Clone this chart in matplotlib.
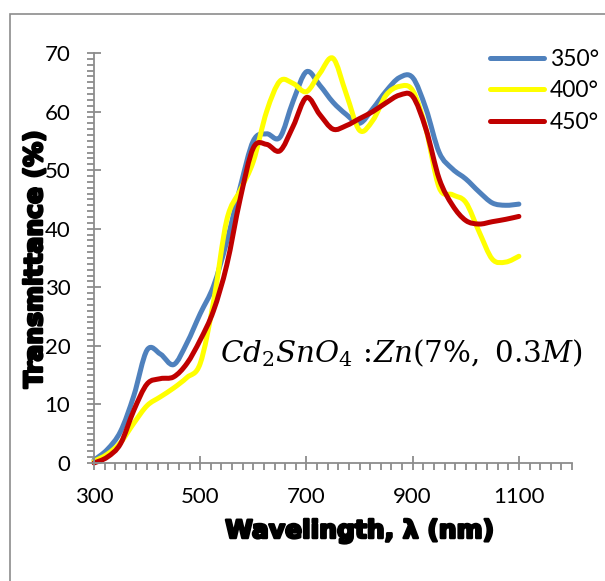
import matplotlib
matplotlib.use("Agg")
import matplotlib.pyplot as plt
import matplotlib.patheffects as pe
from matplotlib.lines import Line2D
from matplotlib.patches import PathPatch, Rectangle
from matplotlib.path import Path
from matplotlib.ticker import MultipleLocator

# wavelength grid (nm) and transmittance (%)
wavelength = [300, 325, 350, 375, 400, 425, 450, 475, 500, 525, 550, 575, 600,
              625, 650, 675, 700, 725, 750, 775, 800, 825, 850, 875, 900, 925,
              950, 975, 1000, 1025, 1050, 1075, 1100]

t_350 = [0.5, 2.3, 5.4, 11.5, 19.3, 18.6, 16.8, 20.5, 25.5, 30.2, 37.8, 47.0, 55.0,
         56.2, 55.6, 61.8, 66.8, 64.5, 61.6, 59.5, 58.0, 60.5, 63.5, 65.8, 65.8, 60.5,
         53.0, 50.2, 48.5, 46.3, 44.4, 44.0, 44.2]

t_400 = [0.3, 1.5, 3.5, 6.8, 9.8, 11.3, 12.8, 14.6, 17.0, 27.5, 41.5, 46.5, 51.5,
         60.0, 65.2, 64.8, 63.4, 66.5, 69.1, 63.0, 56.8, 58.5, 62.8, 64.3, 63.6, 57.0,
         47.0, 45.8, 44.5, 39.5, 34.8, 34.3, 35.3]

t_450 = [0.0, 1.0, 3.3, 9.0, 13.5, 14.4, 14.7, 17.0, 21.0, 26.0, 33.8, 45.0, 53.8,
         54.4, 53.3, 57.5, 62.4, 59.5, 57.0, 57.6, 58.8, 60.0, 61.5, 62.8, 62.6, 57.0,
         48.5, 44.0, 41.4, 40.8, 41.2, 41.6, 42.1]

series_labels = ["350°", "400°", "450°"]
series_colors = ["#4F81BD", "#FFFF00", "#C00000"]

x_ticks = [300, 500, 700, 900, 1100]
y_ticks = [0, 10, 20, 30, 40, 50, 60, 70]

plt.rcParams["font.family"] = ["Lato", "DejaVu Sans"]
plt.rcParams["mathtext.fontset"] = "dejavuserif"


def smooth_path(xs, ys):
    """Bezier path through the points, like Excel's 'smoothed line'."""
    pts = list(zip(xs, ys))
    verts = [pts[0]]
    codes = [Path.MOVETO]
    n = len(pts)
    for i in range(n - 1):
        p0 = pts[max(i - 1, 0)]
        p1 = pts[i]
        p2 = pts[i + 1]
        p3 = pts[min(i + 2, n - 1)]
        c1 = (p1[0] + (p2[0] - p0[0]) / 6, p1[1] + (p2[1] - p0[1]) / 6)
        c2 = (p2[0] - (p3[0] - p1[0]) / 6, p2[1] - (p3[1] - p1[1]) / 6)
        verts += [c1, c2, p2]
        codes += [Path.CURVE4] * 3
    return Path(verts, codes)


W, H = 605, 581
fig = plt.figure(figsize=(W / 100, H / 100), dpi=100)
ax = fig.add_axes([94 / W, 1 - 463 / H, (572 - 94) / W, (463 - 53) / H])

handles = []
for vals, lab, col in zip([t_350, t_400, t_450], series_labels, series_colors):
    patch = PathPatch(smooth_path(wavelength, vals), facecolor="none", edgecolor=col,
                      lw=3.6, capstyle="round", joinstyle="round", clip_on=False)
    ax.add_patch(patch)
    handles.append(Line2D([], [], color=col, lw=3.6, solid_capstyle="round", label=lab))

ax.set_xlim(300, 1200)
ax.set_ylim(0, 70)
ax.set_xticks(x_ticks)
ax.set_yticks(y_ticks)
ax.xaxis.set_minor_locator(MultipleLocator(20))
ax.yaxis.set_minor_locator(MultipleLocator(1))

grey = "#8C8C8C"
for side in ["top", "right"]:
    ax.spines[side].set_visible(False)
for side in ["left", "bottom"]:
    ax.spines[side].set_color(grey)
    ax.spines[side].set_linewidth(1.3)

ax.tick_params(which="major", direction="inout", length=10, width=1.3, color=grey,
               labelsize=16, pad=12)
ax.tick_params(which="minor", direction="out", length=5, width=1.3, color=grey)

ax.legend(handles=handles, loc="upper left", bbox_to_anchor=(490 / W, 1 - 49 / H),
          bbox_transform=fig.transFigure, frameon=False,
          prop={"family": "Lato", "size": 16.5}, handlelength=2.35,
          handletextpad=0.25, labelspacing=0.45, borderpad=0, borderaxespad=0)

heavy = [pe.withStroke(linewidth=1.8, foreground="black")]
fig.text(35 / W, 1 - 259 / H, "Transmittance (%)", rotation=90, ha="center", va="center",
         fontsize=18, fontweight="bold", family="DejaVu Sans", path_effects=heavy)
fig.text(360 / W, 1 - 531 / H, "Wavelingth, λ (nm)", ha="center", va="center",
         fontsize=18, fontweight="bold", family="DejaVu Sans", path_effects=heavy)

fig.text(220 / W, 1 - 362 / H, r"$Cd_2SnO_4\,:\!Zn(7\%,\ 0.3M)$", ha="left",
         va="baseline", fontsize=21.2)

# outer chart border (runs off the right and bottom edges)
fig.patches.append(Rectangle((10 / W, -0.1), 1.2, 1.1 - 14 / H, transform=fig.transFigure,
                             fill=False, edgecolor=grey, lw=1.2))

fig.savefig("out.png", dpi=100)
